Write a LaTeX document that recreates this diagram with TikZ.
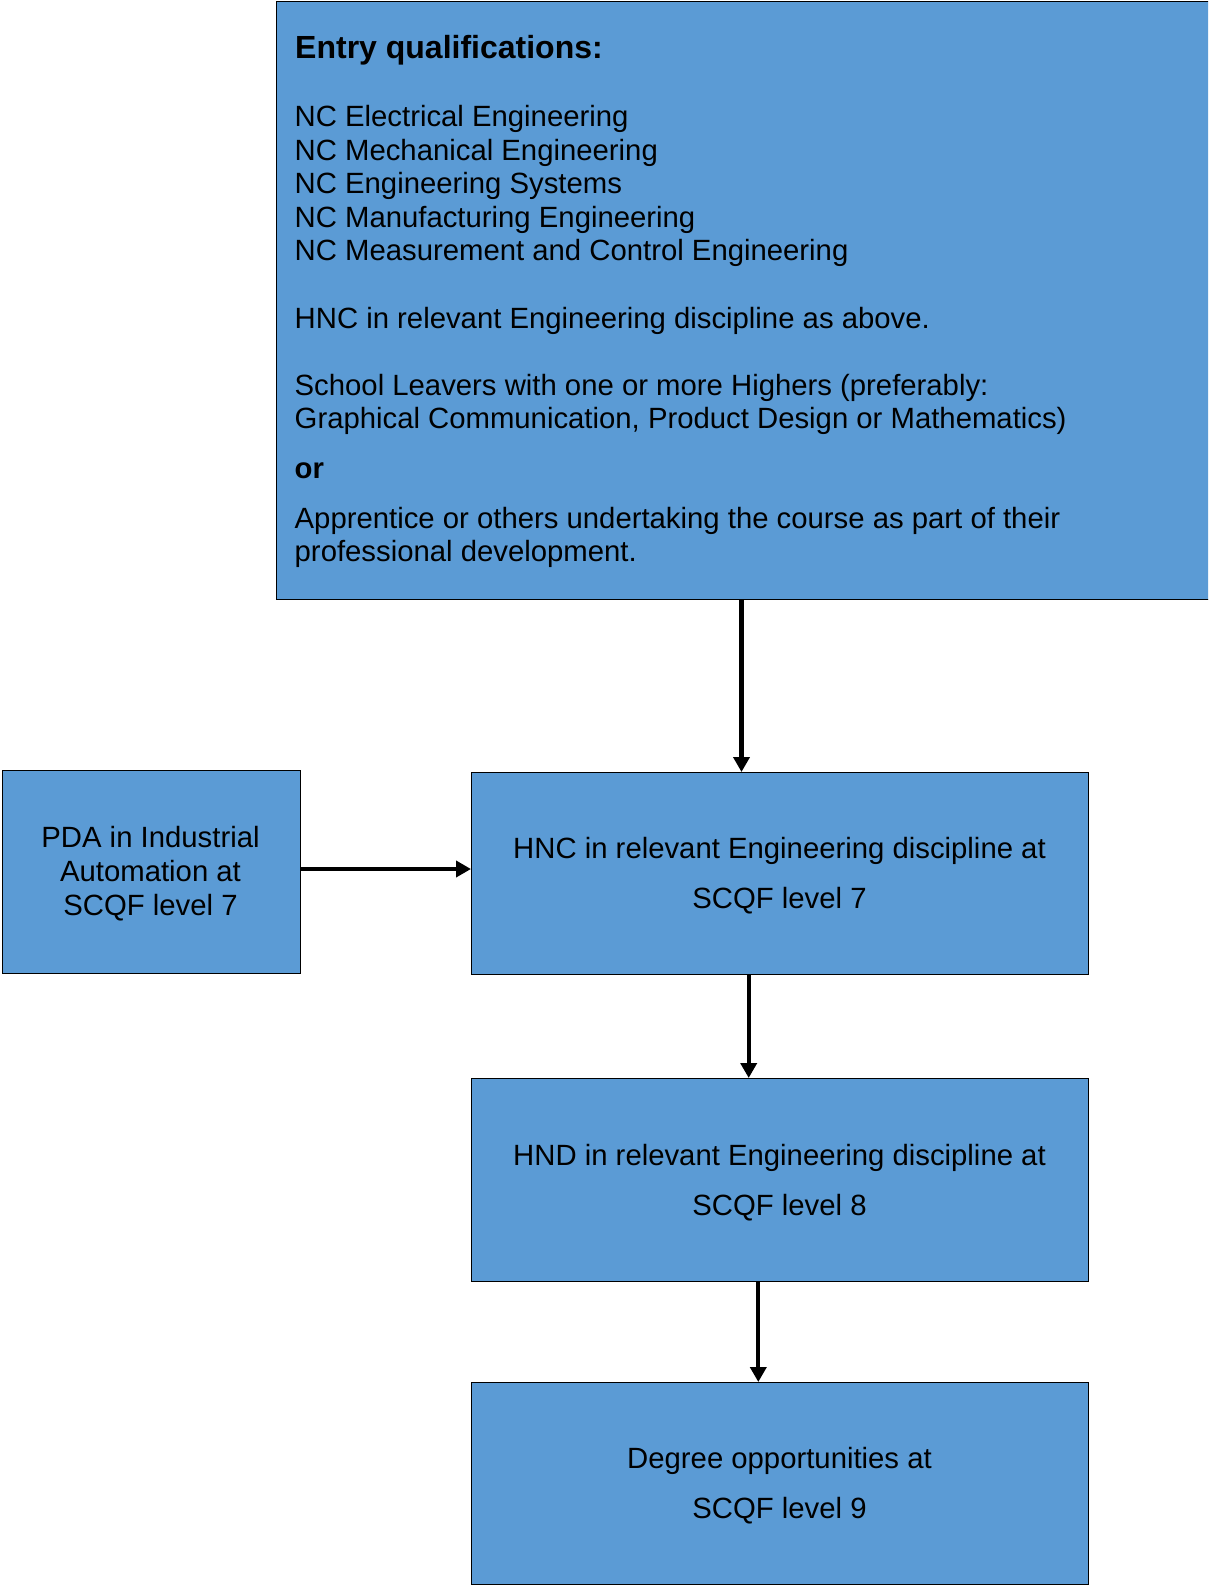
\documentclass[tikz,border=0pt]{standalone}
\usepackage{fontspec}
\setmainfont{Liberation Sans}
\usetikzlibrary{arrows.meta}
\definecolor{boxblue}{RGB}{91,155,213}
\tikzset{
  box/.style={draw=black, line width=1.2pt, fill=boxblue, rectangle, inner sep=0pt, anchor=north west},
  bodytext/.style={inner sep=0pt, font=\fontsize{29.3}{34}\selectfont, text=black},
  linetext/.style={bodytext, anchor=base west},
  midtext/.style={bodytext, anchor=base},
  flow/.style={line width=4.3pt, -{Triangle[length=15pt,width=16pt]}}
}
\begin{document}
\begin{tikzpicture}[x=1pt,y=-1pt]
\clip (0,0) rectangle (1208,1586);
\fill[white] (0,0) rectangle (1208,1586);
% boxes
\node[box, minimum width=936pt, minimum height=598pt] (entry) at (276,1) {};
\node[box, minimum width=298pt, minimum height=203pt] (pda) at (1.5,769.5) {};
\node[box, minimum width=617pt, minimum height=202pt] (hnc) at (471,772) {};
\node[box, minimum width=617pt, minimum height=203pt] (hnd) at (471,1078) {};
\node[box, minimum width=617pt, minimum height=202pt] (deg) at (471,1382) {};
% entry text
\node[inner sep=0pt, anchor=base west, font=\fontsize{32}{38}\selectfont\bfseries] (t0) at (295,58.5) {Entry qualifications:};
\node[linetext] (t1) at (294.5,126.7) {NC Electrical Engineering};
\node[linetext] (t2) at (294.5,160.2) {NC Mechanical Engineering};
\node[linetext] (t3) at (294.5,193.7) {NC Engineering Systems};
\node[linetext] (t4) at (294.5,227.2) {NC Manufacturing Engineering};
\node[linetext] (t5) at (294.5,260.7) {NC Measurement and Control Engineering};
\node[linetext] (t6) at (294.5,328.3) {HNC in relevant Engineering discipline as above.};
\node[linetext] (t7) at (294.5,395) {School Leavers with one or more Highers (preferably:};
\node[linetext] (t8) at (294.5,428.3) {Graphical Communication, Product Design or Mathematics)};
\node[linetext, font=\fontsize{29.3}{34}\selectfont\bfseries] (t9) at (294.5,478.3) {or};
\node[linetext] (t10) at (294.5,528.3) {Apprentice or others undertaking the course as part of their};
\node[linetext] (t11) at (294.5,561.7) {professional development.};
% other box texts
\node[midtext] (p1) at (150.5,847.3) {PDA in Industrial};
\node[midtext] (p2) at (150.5,881.7) {Automation at};
\node[midtext] (p3) at (150.5,915) {SCQF level 7};
\node[midtext] (h1) at (779.5,858.3) {HNC in relevant Engineering discipline at};
\node[midtext] (h2) at (779.5,908.3) {SCQF level 7};
\node[midtext] (d1) at (779.5,1165) {HND in relevant Engineering discipline at};
\node[midtext] (d2) at (779.5,1215) {SCQF level 8};
\node[midtext] (g1) at (779.5,1468.3) {Degree opportunities at};
\node[midtext] (g2) at (779.5,1518.3) {SCQF level 9};
% connectors
\coordinate (a1) at (741.5,0);
\coordinate (a2) at (748.7,0);
\coordinate (a3) at (758.3,0);
\coordinate (a4) at (0,869);
\draw[flow] (entry.south -| a1) -- (hnc.north -| a1);
\draw[flow] (hnc.south -| a2) -- (hnd.north -| a2);
\draw[flow] (hnd.south -| a3) -- (deg.north -| a3);
\draw[flow] (pda.east |- a4) -- (hnc.west |- a4);
\end{tikzpicture}
\end{document}
